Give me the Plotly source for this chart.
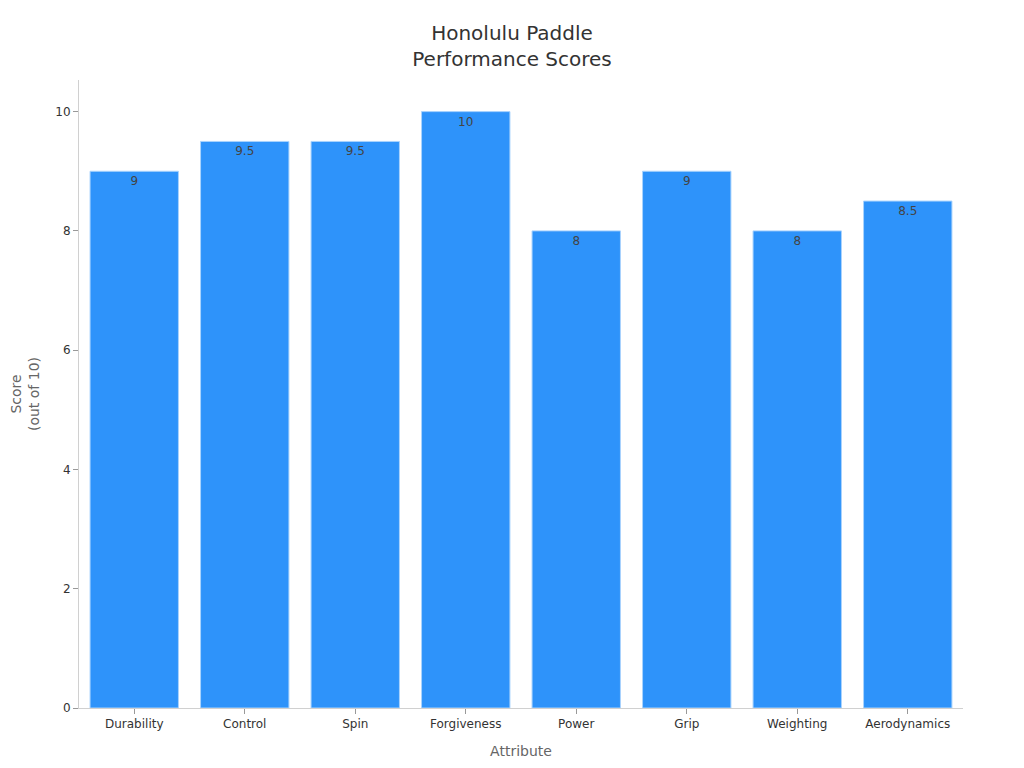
import plotly.graph_objects as go

attributes = ["Durability", "Control", "Spin", "Forgiveness", "Power", "Grip", "Weighting", "Aerodynamics"]
scores = [9, 9.5, 9.5, 10, 8, 9, 8, 8.5]

fig = go.Figure()
fig.add_trace(go.Bar(
    x=attributes,
    y=scores,
    text=[str(s) for s in scores],
    textposition="inside",
    insidetextanchor="end",
    textfont=dict(size=12, color="#444444"),
    marker=dict(color="#2E93FA", line=dict(color="#A9D3FD", width=1)),
))

fig.update_layout(
    width=1008,
    height=752,
    paper_bgcolor="white",
    plot_bgcolor="white",
    font=dict(family="DejaVu Sans", size=12, color="#333333"),
    title=dict(text="Honolulu Paddle<br>Performance Scores", x=0.5, xanchor="center",
               y=0.957, font=dict(size=20, color="#333333")),
    margin=dict(l=71, r=53, t=72, b=52),
    bargap=0.2,
    showlegend=False,
)
fig.update_xaxes(
    title=dict(text="Attribute", font=dict(size=14, color="#666666")),
    showline=True, linecolor="#D0D0D0", ticks="outside", tickcolor="#999999", ticklen=5,
    showgrid=False, automargin=False,
)
fig.update_yaxes(
    title=dict(text="Score<br>(out of 10)", font=dict(size=14, color="#666666")),
    range=[0, 10.53], dtick=2,
    showline=True, linecolor="#D0D0D0", ticks="outside", tickcolor="#999999", ticklen=5,
    showgrid=False, zeroline=False, automargin=False,
)

fig.write_html("out.html")
